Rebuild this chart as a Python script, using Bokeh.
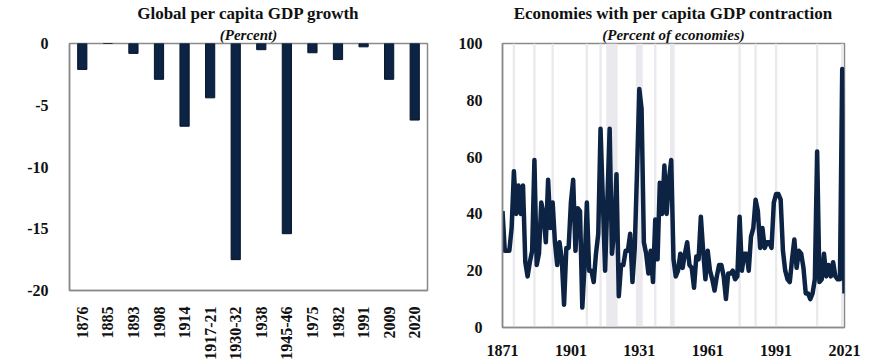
import math
from bokeh.plotting import figure
from bokeh.models import FactorRange, Range1d, FixedTicker, Title, ColumnDataSource
from bokeh.layouts import row, column
from bokeh.embed import file_html
from bokeh.resources import INLINE

# ---------------- data ----------------
episodes = ["1876", "1885", "1893", "1908", "1914", "1917-21", "1930-32",
            "1938", "1945-46", "1975", "1982", "1991", "2009", "2020"]
growth = [-2.1, 0.0, -0.8, -2.9, -6.7, -4.4, -17.5,
          -0.5, -15.4, -0.75, -1.3, -0.27, -2.9, -6.2]
left_yticks = [0, -5, -10, -15, -20]
left_ytick_labels = ["0", "-5", "-10", "-15", "-20"]

years = list(range(1871, 2022))
share_contracting = [
    41, 27, 27, 27, 35, 55, 40, 50, 40, 50,   # 1871-1880
    23, 18, 23, 27, 59, 22, 26, 44, 40, 30,   # 1881-1890
    52, 35, 44, 30, 22, 30, 24, 8, 28, 28,    # 1891-1900
    44, 52, 27, 42, 41, 7, 22, 44, 20, 20,    # 1901-1910
    16, 26, 33, 70, 45, 20, 45, 70, 26, 34,   # 1911-1920
    54, 11, 22, 22, 27, 27, 33, 16, 28, 55,   # 1921-1930
    84, 77, 30, 26, 19, 27, 16, 38, 24, 51,   # 1931-1940
    40, 57, 40, 52, 59, 24, 18, 20, 26, 21,   # 1941-1950
    26, 30, 22, 21, 14, 25, 24, 39, 27, 17,   # 1951-1960
    27, 20, 17, 13, 18, 22, 22, 18, 10, 19,   # 1961-1970
    19, 20, 17, 18, 39, 20, 26, 26, 20, 32,   # 1971-1980
    35, 45, 41, 28, 35, 28, 30, 30, 28, 44,   # 1981-1990
    47, 47, 45, 27, 20, 17, 16, 24, 31, 21,   # 1991-2000
    27, 26, 21, 12, 12, 10, 12, 17, 62, 16,   # 2001-2010
    17, 26, 18, 22, 18, 23, 18, 17, 17, 91,   # 2011-2020
    12,                                       # 2021
]
recession_start = [1876, 1885, 1893, 1908, 1914, 1917, 1930, 1938, 1945, 1975, 1982, 1991, 2009, 2020]
recession_end   = [1876, 1885, 1893, 1908, 1914, 1921, 1932, 1938, 1946, 1975, 1982, 1991, 2009, 2020]
right_xticks = [1871, 1901, 1931, 1961, 1991, 2021]
right_yticks = [0, 20, 40, 60, 80, 100]

# ---------------- style ----------------
FONT = "Liberation Serif"
NAVY = "#0c2344"
FRAME = "#8a8a8a"
TXT = "#111111"


def style_axes(p):
    for ax in (p.xaxis, p.yaxis):
        ax.major_label_text_font = FONT
        ax.major_label_text_font_size = "16px"
        ax.major_label_text_font_style = "bold"
        ax.major_label_text_color = TXT
        ax.major_tick_line_color = None
        ax.minor_tick_line_color = None
        ax.axis_line_color = FRAME
        ax.axis_line_width = 1.5
    p.xgrid.grid_line_color = None
    p.ygrid.grid_line_color = None
    p.outline_line_color = FRAME
    p.outline_line_width = 1.5
    p.background_fill_color = "white"
    p.border_fill_color = "white"


def add_titles(p, main, sub):
    p.add_layout(Title(text=sub, align="center", text_font=FONT,
                       text_font_size="15px", text_font_style="bold italic",
                       text_color=TXT, standoff=2, offset=0), "above")
    p.add_layout(Title(text=main, align="center", text_font=FONT,
                       text_font_size="17px", text_font_style="bold",
                       text_color=TXT, standoff=2, offset=0), "above")


# ---------------- left chart ----------------
src1 = ColumnDataSource(dict(cat=episodes, val=growth))
p1 = figure(x_range=FactorRange(*episodes), y_range=Range1d(-20, 0),
            frame_width=358, frame_height=247, title=None,
            output_backend="svg", toolbar_location=None,
            min_border_left=69, min_border_right=13,
            min_border_top=36, min_border_bottom=60)
p1.vbar(x="cat", top="val", bottom=0, width=0.36, source=src1,
        fill_color=NAVY, line_color="#06152b", line_width=1)
style_axes(p1)
p1.yaxis.ticker = FixedTicker(ticks=left_yticks)
p1.yaxis.major_label_overrides = {t: s for t, s in zip(left_yticks, left_ytick_labels)}
p1.yaxis.major_label_standoff = 15
p1.xaxis.major_label_orientation = math.pi / 2
p1.xaxis.major_label_standoff = 10
add_titles(p1, "Global per capita GDP growth", "(Percent)")

# ---------------- right chart ----------------
src_band = ColumnDataSource(dict(
    left=[s - 0.5 for s in recession_start],
    right=[e + 0.5 for e in recession_end],
))
src2 = ColumnDataSource(dict(year=years, share=share_contracting))
p2 = figure(x_range=Range1d(1871, 2021), y_range=Range1d(0, 100),
            frame_width=342, frame_height=284, title=None,
            output_backend="svg", toolbar_location=None,
            min_border_left=62, min_border_right=31,
            min_border_top=36, min_border_bottom=30)
p2.quad(left="left", right="right", bottom=0, top=100, source=src_band,
        fill_color="#e9e9ee", line_color=None)
p2.line(x="year", y="share", source=src2, line_width=4.5, line_color=NAVY,
        line_join="round")
style_axes(p2)
p2.xaxis.ticker = FixedTicker(ticks=right_xticks)
p2.yaxis.ticker = FixedTicker(ticks=right_yticks)
p2.yaxis.major_label_standoff = 14
p2.xaxis.major_label_standoff = 11
add_titles(p2, "Economies with per capita GDP contraction", "(Percent of economies)")

layout = row(column(p1), column(p2))
open("out.html", "w").write(file_html(layout, INLINE))
